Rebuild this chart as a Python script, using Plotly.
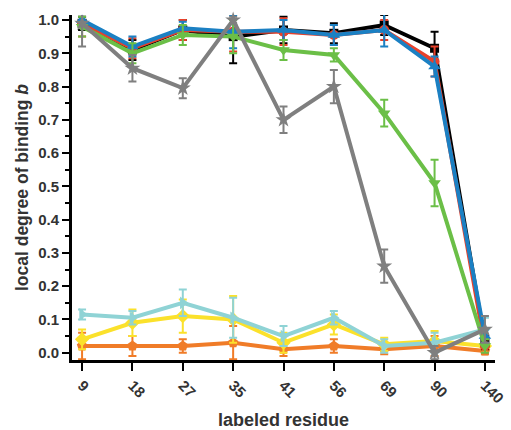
import plotly.graph_objects as go

residues = ["9", "18", "27", "35", "41", "56", "69", "90", "140"]

black_y = [0.99, 0.91, 0.97, 0.95, 0.97, 0.96, 0.985, 0.915, 0.03]
black_e = [0.02, 0.03, 0.03, 0.08, 0.04, 0.03, 0.03, 0.05, 0.02]
red_y = [0.99, 0.915, 0.97, 0.965, 0.965, 0.955, 0.97, 0.875, 0.02]
red_e = [0.04, 0.03, 0.03, 0.06, 0.04, 0.03, 0.03, 0.045, 0.02]
blue_y = [1.0, 0.92, 0.975, 0.965, 0.97, 0.955, 0.97, 0.86, 0.05]
blue_e = [0.02, 0.03, 0.02, 0.05, 0.03, 0.03, 0.05, 0.03, 0.02]
green_y = [0.98, 0.90, 0.955, 0.95, 0.91, 0.895, 0.72, 0.51, 0.02]
green_e = [0.03, 0.03, 0.03, 0.05, 0.03, 0.02, 0.04, 0.07, 0.02]
gray_y = [0.99, 0.855, 0.795, 1.0, 0.70, 0.80, 0.26, 0.0, 0.07]
gray_e = [0.07, 0.04, 0.03, 0.01, 0.04, 0.05, 0.05, 0.02, 0.04]
cyan_y = [0.115, 0.105, 0.15, 0.105, 0.05, 0.105, 0.02, 0.03, 0.07]
cyan_e = [0.015, 0.02, 0.04, 0.06, 0.03, 0.02, 0.02, 0.03, 0.035]
yellow_y = [0.04, 0.09, 0.11, 0.10, 0.03, 0.085, 0.025, 0.035, 0.02]
yellow_e = [0.03, 0.04, 0.05, 0.07, 0.03, 0.03, 0.02, 0.03, 0.02]
orange_y = [0.02, 0.02, 0.02, 0.03, 0.01, 0.02, 0.01, 0.02, 0.005]
orange_e = [0.04, 0.03, 0.02, 0.05, 0.02, 0.02, 0.015, 0.03, 0.01]

series = [
    ("orange", orange_y, orange_e, "#f07c28", "pentagon", 11),
    ("yellow", yellow_y, yellow_e, "#fbe12b", "diamond", 11),
    ("cyan", cyan_y, cyan_e, "#8fd3d5", "triangle-right", 11),
    ("black", black_y, black_e, "#000000", "square", 9),
    ("red", red_y, red_e, "#e8412b", "circle", 10),
    ("blue", blue_y, blue_e, "#1b80c3", "triangle-up", 11),
    ("green", green_y, green_e, "#6bbf47", "triangle-down", 11),
    ("gray", gray_y, gray_e, "#7f7f7f", "star", 12),
]

xi = list(range(len(residues)))
fig = go.Figure()
for name, y, e, c, sym, sz in series:
    fig.add_trace(go.Scatter(
        x=xi, y=y, name=name, mode="lines+markers",
        line=dict(color=c, width=4),
        marker=dict(symbol=sym, size=sz, color=c),
        error_y=dict(type="data", array=e, visible=True, color=c, thickness=2, width=4),
        cliponaxis=False,
    ))

tc = "#333333"
fig.update_layout(
    width=511, height=430,
    margin=dict(l=72, r=16, t=15, b=70),
    plot_bgcolor="white", paper_bgcolor="white",
    showlegend=False,
    font=dict(family="Arial, Liberation Sans, sans-serif", color=tc, size=15, weight="bold"),
)
fig.update_xaxes(
    automargin=False,
    range=[-0.2, 8.2], tickvals=xi, ticktext=residues, tickangle=45,
    showgrid=False, zeroline=False, showline=True, linecolor="black", linewidth=3,
    ticks="outside", ticklen=8, tickwidth=2, tickcolor="black",
    tickfont=dict(size=15, weight="bold", color=tc),
    title=dict(text="labeled residue", font=dict(size=18, weight="bold", color=tc), standoff=16),
)
fig.update_yaxes(
    automargin=False,
    range=[-0.022, 1.015], tickvals=[round(0.1 * i, 1) for i in range(11)],
    ticktext=["%.1f" % (0.1 * i) for i in range(11)],
    showgrid=False, zeroline=False, showline=True, linecolor="black", linewidth=3,
    ticks="outside", ticklen=7, tickwidth=2, tickcolor="black",
    minor=dict(tickvals=[0.05 + 0.1 * i for i in range(10)], ticks="outside", ticklen=4, tickwidth=2, tickcolor="black"),
    tickfont=dict(size=15, weight="bold", color=tc),
    title=dict(text="local degree of binding <i>b</i>", font=dict(size=17.5, weight="bold", color=tc), standoff=6),
)
fig.write_html("out.html")
